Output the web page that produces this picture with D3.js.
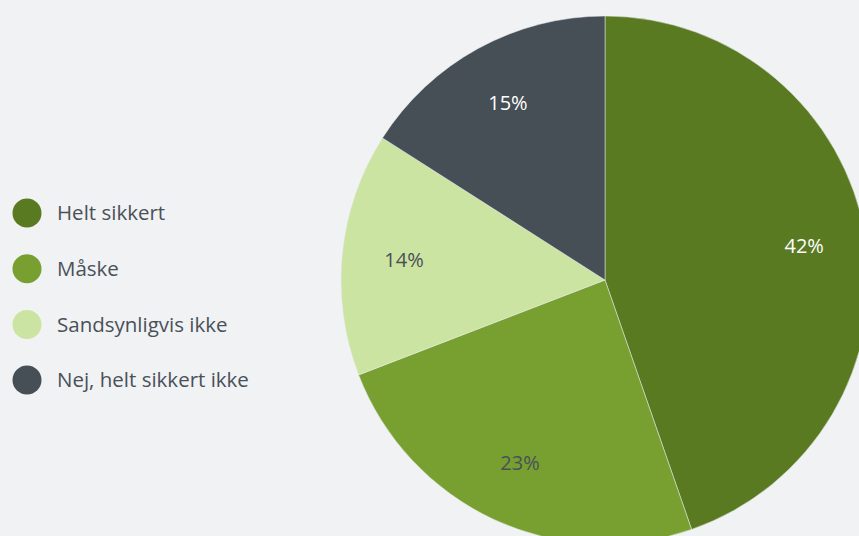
<!DOCTYPE html>
<html>
<head>
<meta charset="utf-8">
<script src="https://cdn.jsdelivr.net/npm/d3@7.9.0/dist/d3.min.js"></script>
<style>
  html, body { margin: 0; padding: 0; background: #f0f2f4; }
  svg { display: block; font-family: "Open Sans", "Noto Sans", sans-serif; }
</style>
</head>
<body>
<svg id="chart" width="859" height="536"></svg>
<script>
// Data
const categories = ['Helt sikkert', 'Måske', 'Sandsynligvis ikke', 'Nej, helt sikkert ikke'];
const values = [42, 23, 14, 15];
const colors = ['#5a7a22', '#77a031', '#cbe4a1', '#464e56'];
const labelColors = ['#ffffff', '#4a5058', '#4a5058', '#ffffff'];

const svg = d3.select('#chart');
const cx = 605, cy = 280, radius = 264;

const data = categories.map((c, i) => ({ label: c, value: values[i], idx: i }));

// Pie
const pie = d3.pie().value(d => d.value).sort(null);
const arc = d3.arc().innerRadius(0).outerRadius(radius);
const labelArc = d3.arc().innerRadius(202).outerRadius(202);
const arcs = pie(data);

const g = svg.append('g').attr('transform', `translate(${cx},${cy})`);

g.selectAll('path')
  .data(arcs)
  .join('path')
  .attr('d', arc)
  .attr('fill', d => colors[d.data.idx])
  .attr('stroke', '#e8ecef')
  .attr('stroke-width', 0.5);

g.selectAll('text')
  .data(arcs)
  .join('text')
  .attr('transform', d => `translate(${labelArc.centroid(d)})`)
  .attr('text-anchor', 'middle')
  .attr('dy', '0.35em')
  .attr('font-size', 20)
  .attr('fill', d => labelColors[d.data.idx])
  .text(d => d.data.value + '%');

// Legend
const legend = svg.append('g').attr('transform', 'translate(27,213)');
const item = legend.selectAll('g')
  .data(data)
  .join('g')
  .attr('transform', (d, i) => `translate(0,${i * 55.7})`);

item.append('circle')
  .attr('r', 14.5)
  .attr('fill', d => colors[d.idx]);

item.append('text')
  .attr('x', 30)
  .attr('dy', '0.35em')
  .attr('font-size', 20.5)
  .attr('fill', '#4a5058')
  .text(d => d.label);
</script>
</body>
</html>
